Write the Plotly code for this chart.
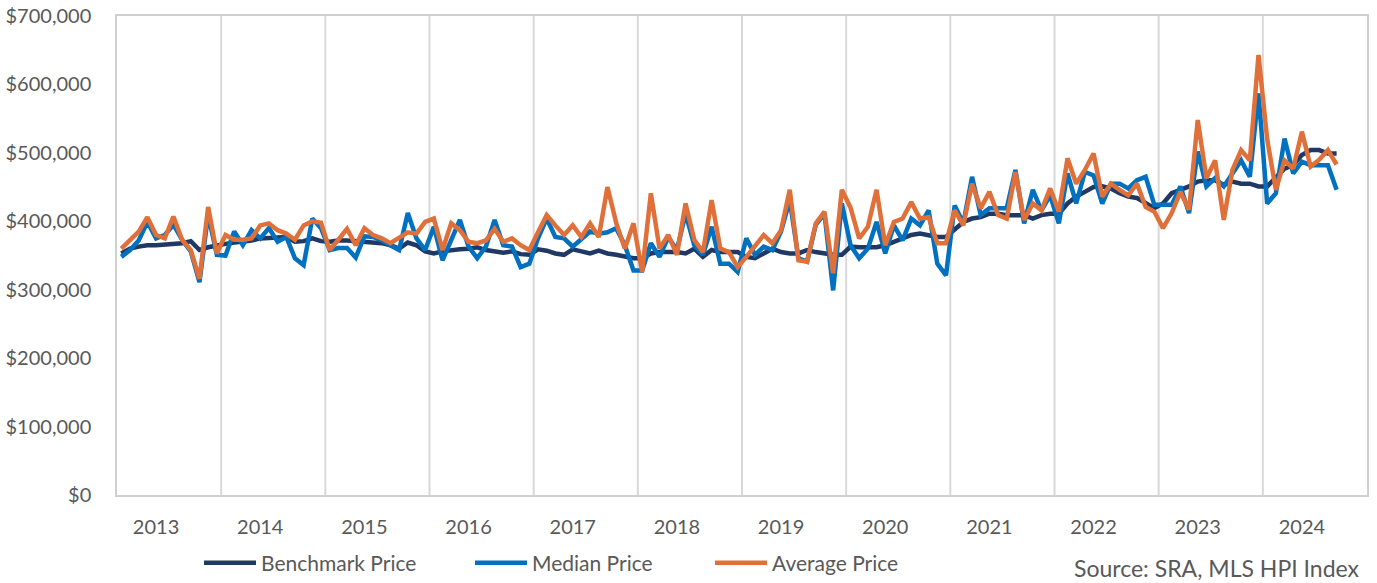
import plotly.graph_objects as go

# Monthly series, Sep 2012 .. May 2024 (values in $ thousands)
benchmark_k = [
    353, 360, 363, 365, 365, 366, 367, 368, 371, 358, 362, 365, 367, 369, 370, 372, 375, 376, 377, 377, 370, 371, 375, 371, 370, 372, 372, 371, 370,
    369, 368, 365, 360, 369, 365, 356, 353, 356, 358, 359, 360, 362, 358, 356, 354, 356, 352, 351, 359, 357, 353, 351, 359, 356, 353, 357, 353,
    351, 348, 346, 346, 353, 355, 355, 355, 353, 360, 348, 358, 355, 355, 355, 348, 346, 353, 360, 355, 353, 353, 358, 355, 353, 351, 351, 363,
    362, 362, 362, 365, 370, 375, 380, 382, 380, 377, 377, 387, 399, 404, 406, 411, 411, 409, 409, 409, 404, 409, 411, 411, 426, 436, 443, 450,
    451, 448, 441, 436, 434, 426, 419, 426, 441, 446, 451, 458, 460, 460, 453, 458, 455, 455, 451, 451, 465, 477, 482, 497, 504, 504, 499, 499,
]
median_k = [
    348, 358, 372, 399, 375, 380, 395, 373, 356, 311, 410, 351, 350, 385, 365, 387, 375, 390, 370, 377, 346, 336, 404, 390, 358, 361, 361, 347, 378,
    377, 372, 365, 358, 412, 375, 358, 392, 343, 372, 402, 363, 346, 363, 402, 365, 363, 333, 338, 375, 404, 377, 375, 363, 375, 385, 382, 384,
    390, 365, 328, 328, 368, 348, 377, 358, 411, 365, 351, 392, 338, 338, 326, 375, 351, 363, 358, 385, 431, 346, 341, 395, 411, 299, 426, 365,
    346, 360, 399, 353, 394, 372, 404, 394, 416, 338, 321, 423, 397, 465, 409, 419, 419, 419, 475, 397, 446, 416, 438, 397, 470, 426, 472, 467,
    426, 455, 455, 448, 460, 465, 424, 424, 424, 451, 412, 502, 451, 463, 451, 470, 489, 465, 587, 426, 441, 521, 470, 487, 482, 482, 482, 446,
]
average_k = [
    360, 373, 385, 406, 380, 375, 407, 373, 358, 316, 421, 353, 380, 373, 373, 375, 394, 397, 387, 382, 373, 394, 400, 398, 358, 373, 389, 365, 390,
    380, 375, 368, 377, 384, 382, 399, 404, 358, 397, 387, 370, 368, 372, 389, 370, 375, 365, 358, 384, 409, 394, 380, 394, 377, 397, 377, 450,
    398, 360, 397, 326, 441, 360, 380, 351, 426, 373, 355, 431, 360, 355, 333, 348, 363, 380, 368, 387, 446, 343, 341, 397, 414, 324, 446, 420,
    375, 392, 446, 365, 399, 404, 428, 404, 406, 368, 368, 416, 394, 455, 419, 443, 409, 404, 472, 402, 426, 416, 448, 414, 492, 455, 475, 499,
    436, 455, 446, 438, 455, 421, 414, 390, 412, 443, 417, 548, 463, 489, 402, 475, 504, 489, 643, 520, 446, 489, 477, 531, 480, 490, 504, 483,
]
year_labels = ["2013", "2014", "2015", "2016", "2017", "2018", "2019", "2020", "2021", "2022", "2023", "2024"]
first_january_index = 4      # Sep 2012 start -> Jan 2013 is the 5th month
n_categories = 144           # category slots on the axis

benchmark = [v * 1000 for v in benchmark_k]
median = [v * 1000 for v in median_k]
average = [v * 1000 for v in average_k]
x = list(range(len(benchmark)))

TEXT = "#595959"
FONT = "Lato"

series = [
    ("Benchmark Price", benchmark, "#1F3864", "legend", 0.0656),
    ("Median Price", median, "#0070C0", "legend2", 0.2824),
    ("Average Price", average, "#E0703A", "legend3", 0.4744),
]

fig = go.Figure()
for name, ys, color, leg, _ in series:
    fig.add_trace(go.Scatter(x=x, y=ys, mode="lines", name=name, legend=leg,
                             line=dict(color=color, width=4.5, shape="linear"),
                             hoverinfo="skip"))

label_pos = [first_january_index + 12 * k for k in range(len(year_labels))]
grid_pos = [11.5 + 12 * k for k in range(n_categories // 12 - 1)]

shapes = [dict(type="line", xref="x", yref="paper", x0=g, x1=g, y0=0, y1=1,
               line=dict(color="#D9D9D9", width=2), layer="below") for g in grid_pos]

legend_common = dict(orientation="h", xanchor="left", y=-0.142, yanchor="middle",
                     font=dict(family=FONT, size=21, color=TEXT), itemwidth=52,
                     bgcolor="rgba(0,0,0,0)")
legends = {}
for name, ys, color, leg, lx in series:
    legends[leg] = dict(legend_common, x=lx)

fig.update_layout(
    width=1377, height=583,
    margin=dict(l=117, r=10, t=16, b=88, autoexpand=False),
    paper_bgcolor="white", plot_bgcolor="white",
    font=dict(family=FONT, size=20, color=TEXT),
    shapes=shapes,
    showlegend=True,
    annotations=[dict(text="Source: SRA, MLS HPI Index", xref="paper", yref="paper",
                      x=0.996, y=-0.1524, xanchor="right", yanchor="middle", showarrow=False,
                      font=dict(family=FONT, size=23, color=TEXT))],
    **legends,
)
fig.update_xaxes(range=[-0.5, n_categories - 0.5], tickmode="array", tickvals=label_pos,
                 ticktext=year_labels, showgrid=False, zeroline=False, ticks="",
                 showline=True, mirror=True, linecolor="#D0D0D0", linewidth=1.5,
                 automargin=False, ticklabelstandoff=13,
                 tickfont=dict(family=FONT, size=20, color=TEXT))
fig.update_yaxes(range=[0, 700000], dtick=100000, tickformat="$,.0f", showgrid=False,
                 zeroline=False, ticks="", showline=True, mirror=True,
                 linecolor="#D0D0D0", linewidth=1.5, automargin=False, ticklabelstandoff=20,
                 ticklabeloverflow="allow",
                 tickfont=dict(family=FONT, size=20, color=TEXT))

fig.write_html("out.html", config={"displayModeBar": False},
               post_script="document.body.style.margin='0';")
